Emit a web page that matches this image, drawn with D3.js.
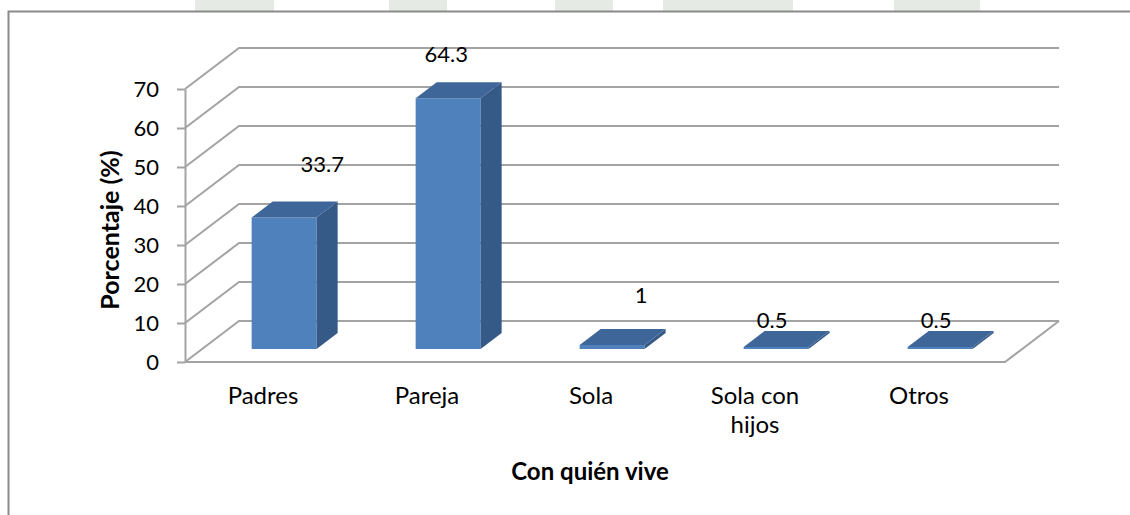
<!DOCTYPE html>
<html>
<head>
<meta charset="utf-8">
<script src="https://cdn.jsdelivr.net/npm/d3@7"></script>
<style>
  html, body { margin: 0; padding: 0; background: #ffffff; }
  svg { display: block; }
  text { font-family: Lato, "Noto Sans", sans-serif; fill: #000; }
</style>
</head>
<body>
<svg id="chart" width="1130" height="515"></svg>
<script>
// Con quién vive — porcentaje por categoría
const categories = ["Padres", "Pareja", "Sola", "Sola con hijos", "Otros"];
const values = [33.7, 64.3, 1, 0.5, 0.5];
const yTicks = [0, 10, 20, 30, 40, 50, 60, 70];
const yTitle = "Porcentaje (%)";
const xTitle = "Con quién vive";

// layout
const plot = { left: 185, right: 1005, bottom: 362, top: 89 };
const depth = { dx: 54, dy: -41 };          // oblique floor depth
const barDepth = [0.317, 0.707];            // bar front / back as depth fractions
// hand-placed data label offsets, relative to the bar's top-back centre
const labelNudge = [[17, -30], [-23, -20], [8, -26], [-25, -3], [-25, -3]];

const colors = {
  grid: "#a3a3a3",
  front: "#4f81bd",
  side: "#355a88",
  top: "#3f6699",
  border: "#8a8a8a"
};

const svg = d3.select("#chart");

// faint background band above the chart frame
const bgBlocks = [[195, 274], [389, 447], [555, 613], [663, 793], [894, 980]];
svg.append("g").selectAll("rect").data(bgBlocks).join("rect")
  .attr("x", d => d[0]).attr("y", 0)
  .attr("width", d => d[1] - d[0]).attr("height", 11)
  .attr("fill", "#e5eae5");

// chart frame
svg.append("rect")
  .attr("x", 8.5).attr("y", 11.5)
  .attr("width", 1200).attr("height", 600)
  .attr("fill", "#ffffff")
  .attr("stroke", colors.border).attr("stroke-width", 2);

const x = d3.scaleBand()
  .domain(categories)
  .range([plot.left, plot.right])
  .paddingInner(0.604)
  .paddingOuter(0.302);

const y = d3.scaleLinear().domain([0, 70]).range([plot.bottom, plot.top]);

// walls: diagonal side-wall lines and back-wall gridlines
const grid = svg.append("g")
  .attr("fill", "none")
  .attr("stroke", colors.grid)
  .attr("stroke-width", 2);

grid.selectAll("path.wall").data(yTicks).join("path")
  .attr("class", "wall")
  .attr("d", t => {
    const y0 = y(t);
    return `M${plot.left},${y0}L${plot.left + depth.dx},${y0 + depth.dy}L${plot.right + depth.dx},${y0 + depth.dy}`;
  });

// floor front and right edges
grid.append("path")
  .attr("d", `M${plot.left},${y(0)}L${plot.right},${y(0)}L${plot.right + depth.dx},${y(0) + depth.dy}`);

// value axis
const yAxis = d3.axisLeft(y)
  .tickValues(yTicks)
  .tickSize(8)
  .tickSizeOuter(0)
  .tickPadding(18)
  .tickFormat(d3.format("d"));

const yAxisG = svg.append("g")
  .attr("transform", `translate(${plot.left},0)`)
  .call(yAxis);
yAxisG.select(".domain").attr("stroke", colors.grid).attr("stroke-width", 2);
yAxisG.selectAll(".tick line").attr("stroke", colors.grid).attr("stroke-width", 2);
yAxisG.selectAll(".tick text")
  .attr("font-size", 22)
  .style("font-family", "Lato, 'Noto Sans', sans-serif")
  .attr("fill", "#000");

// bars as prisms
const f0 = barDepth[0], f1 = barDepth[1];
const bx0 = depth.dx * f0, by0 = depth.dy * f0;
const ddx = depth.dx * (f1 - f0), ddy = depth.dy * (f1 - f0);
const bw = x.bandwidth();

const bars = svg.append("g").selectAll("g").data(categories).join("g");

bars.each(function (c, i) {
  const g = d3.select(this);
  const xl = x(c) + bx0;
  const xr = xl + bw;
  const yb = y(0) + by0;
  const yt = y(values[i]) + by0;
  // front
  g.append("path")
    .attr("d", `M${xl},${yb}L${xl},${yt}L${xr},${yt}L${xr},${yb}Z`)
    .attr("fill", colors.front);
  // side
  g.append("path")
    .attr("d", `M${xr},${yb}L${xr},${yt}L${xr + ddx},${yt + ddy}L${xr + ddx},${yb + ddy}Z`)
    .attr("fill", colors.side);
  // top
  g.append("path")
    .attr("d", `M${xl},${yt}L${xr},${yt}L${xr + ddx},${yt + ddy}L${xl + ddx},${yt + ddy}Z`)
    .attr("fill", colors.top);
});

// data labels
svg.append("g").selectAll("text").data(categories).join("text")
  .attr("x", (c, i) => x(c) + bx0 + ddx + bw / 2 + labelNudge[i][0])
  .attr("y", (c, i) => y(values[i]) + by0 + ddy + labelNudge[i][1])
  .attr("text-anchor", "middle")
  .attr("font-size", 22)
  .text((c, i) => d3.format("~g")(values[i]));

// category labels, wrapped to the band (one text element per line)
const maxLabel = x.step() * 0.7;
const lineGap = 29;
const catG = svg.append("g");
categories.forEach(c => {
  const cx = x(c) + bw / 2 - 4;
  const words = c.split(" ");
  const lines = [];
  let line = [];
  const probe = catG.append("text").attr("font-size", 24);
  words.forEach(w => {
    line.push(w);
    probe.text(line.join(" "));
    if (probe.node().getComputedTextLength() > maxLabel && line.length > 1) {
      line.pop();
      lines.push(line.join(" "));
      line = [w];
    }
  });
  lines.push(line.join(" "));
  probe.remove();
  lines.forEach((l, k) => {
    catG.append("text")
      .attr("text-anchor", "middle")
      .attr("font-size", 24)
      .attr("x", cx)
      .attr("y", 404 + k * lineGap)
      .text(l);
  });
});

// axis titles
svg.append("text")
  .attr("x", 590).attr("y", 480)
  .attr("text-anchor", "middle")
  .attr("font-size", 24)
  .attr("font-weight", "bold")
  .text(xTitle);

svg.append("text")
  .attr("transform", "translate(119,230) rotate(-90)")
  .attr("text-anchor", "middle")
  .attr("font-size", 25)
  .attr("font-weight", "bold")
  .text(yTitle);
</script>
</body>
</html>
